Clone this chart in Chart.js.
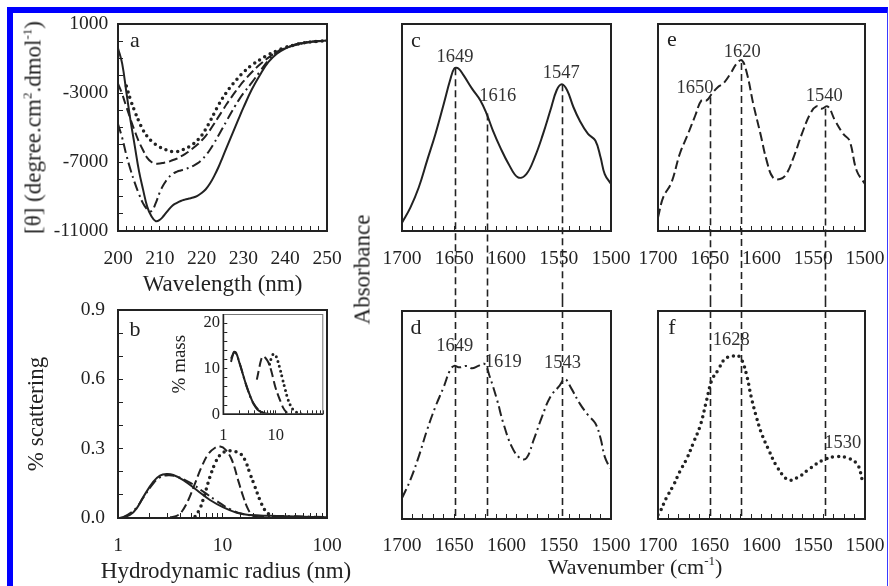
<!DOCTYPE html>
<html>
<head>
<meta charset="utf-8">
<script src="https://cdn.jsdelivr.net/npm/chart.js@4.4.1/dist/chart.umd.min.js"></script>
<style>
  html, body { margin: 0; padding: 0; background: #fff; }
  body { width: 889px; height: 586px; position: relative; overflow: hidden;
         font-family: 'Liberation Serif', 'Times New Roman', serif; color: #222; }
  .frame { position: absolute; left: 7px; top: 7px; width: 881px; height: 620px; box-sizing: border-box;
           border-top: 6px solid #0000ff; border-left: 6px solid #0000ff; border-right: 1px solid #3a3aff; }
  canvas { position: absolute; }
  .lbl { position: absolute; font-size: 23px; line-height: 23px; white-space: nowrap; text-align: center; }
  .lbl sup { font-size: 13px; line-height: 0; vertical-align: 9px; }
</style>
</head>
<body>
<div class="frame"></div>
<canvas id="chartA" width="336" height="286" style="left:14px;top:14px"></canvas>
<canvas id="chartB" width="336" height="286" style="left:14px;top:300px"></canvas>
<canvas id="chartInset" width="165" height="140" style="left:165px;top:305px"></canvas>
<canvas id="chartC" width="280" height="286" style="left:355px;top:14px"></canvas>
<canvas id="chartD" width="280" height="286" style="left:355px;top:300px"></canvas>
<canvas id="chartE" width="250" height="286" style="left:636px;top:14px"></canvas>
<canvas id="chartF" width="250" height="286" style="left:636px;top:300px"></canvas>
<div class="lbl" style="left:-86.8px;top:116px;width:240px;transform:rotate(-90deg)">[θ] (degree.cm<sup>2</sup>.dmol<sup>-1</sup>)</div>
<div class="lbl" style="left:96px;top:559px;width:260px">Hydrodynamic radius (nm)</div>
<div class="lbl" style="left:292px;top:257.5px;width:140px;transform:rotate(-90deg)">Absorbance</div>
<div class="lbl" style="left:535px;top:556px;width:200px;font-size:22px;line-height:22px">Wavenumber (cm<sup>-1</sup>)</div>
<script>
// ---- panel a : CD spectra ----
const aWl = [200, 201, 202, 203, 204, 205, 206, 207, 208, 209, 210, 211, 212, 213, 214, 215, 216, 217, 218, 219,
             220, 221, 222, 223, 224, 225, 226, 227, 228, 229, 230, 232, 234, 236, 238, 240, 242, 244, 246, 248, 250];
const aSolid = [-400, -1300, -2950, -4600, -6050, -7500, -8600, -9600, -10150, -10430, -10350, -10100, -9800, -9530, -9380, -9260, -9180, -9120, -9060, -8960,
                -8800, -8580, -8250, -7820, -7320, -6740, -6150, -5570, -4990, -4410, -3850, -2800, -1940, -1200, -720, -420, -230, -110, -40, 10, 40];
const aDotted = [null, null, -2600, -3400, -4050, -4650, -5150, -5520, -5790, -5980, -6130, -6250, -6340, -6400, -6400, -6340, -6240, -6120, -5960, -5740,
                 -5460, -5090, -4650, -4180, -3720, -3310, -2950, -2620, -2330, -2050, -1790, -1390, -1060, -770, -550, -360, -230, -120, -40, 0, 30];
const aDashed = [-2450, -3060, -3800, -4520, -5200, -5820, -6320, -6760, -7000, -7090, -7090, -7040, -6990, -6900, -6810, -6680, -6540, -6380, -6190, -5990,
                 -5750, -5480, -5150, -4780, -4400, -4020, -3640, -3290, -2950, -2630, -2330, -1800, -1340, -950, -630, -400, -250, -130, -40, 0, 30];
const aDashDot = [-4800, -5600, -6600, -7450, -8200, -8850, -9400, -9750, -9850, -9400, -8750, -8280, -7930, -7700, -7570, -7490, -7420, -7330, -7220, -7080,
                  -6880, -6610, -6290, -5900, -5480, -5050, -4610, -4180, -3760, -3370, -3020, -2400, -1740, -1100, -640, -360, -210, -100, -30, 10, 40];

// ---- panel b : DLS, % scattering ----
const bSolidR = [1.04, 1.30, 1.51, 1.75, 2.18, 2.52, 2.92, 3.38, 4.22, 5.66, 7.59, 10.2, 13.7, 18.3, 24.6, 33, 51, 100];
const bSolid = [0, 0.013, 0.042, 0.092, 0.157, 0.183, 0.190, 0.186, 0.164, 0.121, 0.078, 0.046, 0.023, 0.013, 0.010, 0.009, 0.006, 0.003];
const bDashDotR = [1.12, 1.30, 1.51, 1.75, 2.18, 2.52, 3.03, 3.64, 4.88, 6.55, 8.79, 11.8, 15.8, 21.2, 33, 100];
const bDashDot = [0.003, 0.020, 0.046, 0.089, 0.150, 0.176, 0.185, 0.179, 0.153, 0.114, 0.074, 0.038, 0.017, 0.010, 0.009, 0.004];
const bDashedR = [3.15, 3.64, 4.07, 4.71, 5.46, 6.32, 7.33, 8.5, 9.5, 10.6, 12.3, 14.1, 15.8, 17.7, 19.7, 22.0];
const bDashed = [0.003, 0.009, 0.027, 0.078, 0.150, 0.222, 0.277, 0.304, 0.309, 0.297, 0.251, 0.164, 0.092, 0.035, 0.009, 0.003];
const bDottedR = [5.46, 6.1, 6.8, 7.6, 8.5, 9.5, 10.6, 11.8, 13.2, 14.7, 16.4, 18.3, 20.4, 22.8, 25.4, 28.5, 31.8];
const bDotted = [0.006, 0.042, 0.107, 0.179, 0.237, 0.273, 0.287, 0.291, 0.287, 0.280, 0.251, 0.193, 0.136, 0.078, 0.035, 0.013, 0.003];

// ---- inset : % mass ----
const inSolidR = [1.4, 1.5, 1.6, 1.75, 2.0, 2.4, 2.8, 3.3, 3.8, 4.5, 5.5, 7, 9];
const inSolid = [11.5, 12.8, 13.7, 13.5, 11.5, 8.5, 6.0, 3.8, 2.2, 1.0, 0.4, 0.1, 0];
const inDashDotR = [1.4, 1.55, 1.65, 1.8, 2.1, 2.5, 3.0, 3.5, 4.2, 5, 6.5, 9];
const inDashDot = [12.2, 13.3, 13.6, 13, 10.8, 7.8, 5, 3, 1.6, 0.7, 0.2, 0];
const inDashedR = [4.35, 4.8, 5.2, 5.66, 6.3, 7.26, 8.2, 9.0, 10, 11.3, 12.6, 14, 15.8, 17.5];
const inDashed = [7.6, 10, 11.8, 12.7, 12.4, 11.3, 9.5, 7.6, 5.6, 3.9, 2.5, 1.3, 0.5, 0.1];
const inDottedR = [7.6, 8.3, 9.0, 9.8, 10.8, 12.1, 13.5, 15.1, 17, 18.9, 21, 23.5, 27, 31.6];
const inDotted = [11, 12.5, 13.2, 13, 11.8, 9.8, 7.6, 5.4, 3.3, 2, 1.1, 0.6, 0.3, 0];

// ---- panels c-f : FTIR absorbance ----
const cWn = [1700, 1692, 1684, 1676, 1668, 1660, 1654, 1650, 1646, 1641, 1633, 1625, 1619, 1613, 1606, 1598, 1589, 1581, 1573, 1565, 1558, 1552, 1547, 1542, 1536, 1530, 1522, 1515, 1510, 1506, 1500];
const cAbs = [0.040, 0.113, 0.210, 0.340, 0.469, 0.615, 0.728, 0.785, 0.785, 0.752, 0.688, 0.631, 0.566, 0.485, 0.404, 0.324, 0.259, 0.275, 0.356, 0.469, 0.583, 0.680, 0.709, 0.680, 0.599, 0.534, 0.469, 0.437, 0.356, 0.275, 0.227];
const dWn = [1700, 1692, 1684, 1676, 1668, 1660, 1654, 1650, 1645, 1638, 1633, 1627, 1621, 1616, 1609, 1603, 1595, 1587, 1581, 1574, 1566, 1558, 1550, 1544, 1538, 1530, 1522, 1515, 1510, 1506, 1501];
const dAbs = [0.100, 0.188, 0.300, 0.428, 0.540, 0.636, 0.716, 0.736, 0.729, 0.736, 0.725, 0.736, 0.745, 0.684, 0.572, 0.460, 0.348, 0.292, 0.292, 0.380, 0.492, 0.588, 0.636, 0.672, 0.628, 0.556, 0.500, 0.460, 0.388, 0.300, 0.244];
const eWn = [1700, 1695, 1687, 1679, 1671, 1664, 1658, 1653, 1648, 1642, 1637, 1630, 1624, 1619, 1614, 1608, 1601, 1595, 1589, 1582, 1576, 1569, 1561, 1553, 1547, 1542, 1536, 1529, 1521, 1515, 1508, 1500];
const eAbs = [0.065, 0.162, 0.234, 0.372, 0.469, 0.558, 0.631, 0.631, 0.663, 0.696, 0.712, 0.760, 0.809, 0.825, 0.760, 0.615, 0.469, 0.340, 0.259, 0.251, 0.275, 0.356, 0.469, 0.566, 0.602, 0.591, 0.602, 0.534, 0.469, 0.437, 0.291, 0.227];
const fWn = [1700, 1698, 1692, 1685, 1679, 1672, 1666, 1659, 1653, 1648, 1642, 1635, 1629, 1624, 1619, 1614, 1610, 1605, 1600, 1593, 1585, 1574, 1564, 1553, 1540, 1527, 1516, 1507, 1502, 1500];
const fAbs = [0.02, 0.035, 0.100, 0.163, 0.227, 0.292, 0.364, 0.452, 0.572, 0.668, 0.716, 0.772, 0.780, 0.788, 0.764, 0.684, 0.588, 0.492, 0.412, 0.332, 0.251, 0.188, 0.203, 0.244, 0.284, 0.300, 0.292, 0.260, 0.179, 0.175];

// dashed guide lines running from the upper panel peak down through the lower panel
const cdGuideWn = [1649, 1619, 1547];
const cGuideTop = [0.786, 0.568, 0.709];
const efGuideWn = [1650, 1620, 1539];
const eGuideTop = [0.646, 0.811, 0.592];

// peak annotations (text, wavenumber, absorbance)
const cPeakText = ['1649', '1616', '1547'], cPeakWn = [1649.3, 1608.4, 1547.5], cPeakAbs = [0.840, 0.650, 0.762];
const dPeakText = ['1649', '1619', '1543'], dPeakWn = [1649.5, 1603, 1546.4], dPeakAbs = [0.830, 0.756, 0.749];
const ePeakText = ['1650', '1620', '1540'], ePeakWn = [1664.3, 1618.6, 1539.4], ePeakAbs = [0.688, 0.866, 0.651];
const fPeakText = ['1628', '1530'], fPeakWn = [1629.2, 1521.4], fPeakAbs = [0.861, 0.364];

// ---------------------------------------------------------------------------
const FONT = "'Liberation Serif', 'Times New Roman', serif";
const INK = '#222';
Chart.defaults.font.family = FONT;
Chart.defaults.color = INK;

const STYLES = {
  solid:   { borderDash: [], borderWidth: 2 },
  dashed:  { borderDash: [9, 4], borderWidth: 2 },
  dashdot: { borderDash: [10, 4, 2, 4], borderWidth: 2 },
  dotted:  { borderDash: [0, 6], borderWidth: 3.5, borderCapStyle: 'round' },
  dotSmall:{ borderDash: [0, 5], borderWidth: 3, borderCapStyle: 'round' }
};

const series = (xs, ys, style) => ({
  data: xs.map((x, i) => ({ x, y: ys[i] })),
  borderColor: INK, pointRadius: 0, fill: false, tension: 0.4, ...STYLES[style]
});

// frame, panel letter, peak labels and guide lines
const panelMarks = {
  id: 'panelMarks',
  afterDraw(chart, args, o) {
    const { ctx, chartArea: ca, scales: { x, y } } = chart;
    ctx.save();
    if (o.inset) {
      ctx.lineWidth = 1; ctx.strokeStyle = '#777';
      ctx.strokeRect(ca.left + 0.5, ca.top + 0.5, ca.right - ca.left - 1, ca.bottom - ca.top - 1);
      ctx.lineWidth = 1.5; ctx.strokeStyle = INK;
      ctx.beginPath(); ctx.moveTo(ca.left, ca.top); ctx.lineTo(ca.left, ca.bottom); ctx.lineTo(ca.right, ca.bottom); ctx.stroke();
    } else {
      ctx.lineWidth = 2; ctx.strokeStyle = INK;
      ctx.strokeRect(ca.left, ca.top, ca.right - ca.left, ca.bottom - ca.top);
    }
    ctx.fillStyle = INK; ctx.textAlign = 'center'; ctx.textBaseline = 'middle';
    if (o.letter) {
      ctx.font = `22px ${FONT}`;
      ctx.fillText(o.letter, ca.left + o.letterAt[0], ca.top + o.letterAt[1]);
    }
    if (o.peaks) {
      ctx.font = `18.5px ${FONT}`; ctx.fillStyle = '#333';
      o.peaks.text.forEach((t, i) => ctx.fillText(t, x.getPixelForValue(o.peaks.x[i]), y.getPixelForValue(o.peaks.y[i])));
    }
    if (o.guides) {
      ctx.strokeStyle = INK; ctx.lineWidth = 1.6; ctx.setLineDash([7, 4]);
      o.guides.x.forEach((v, i) => {
        const px = Math.round(x.getPixelForValue(v)) + 0.5;
        const y0 = o.guides.top ? y.getPixelForValue(o.guides.top[i]) : 0;
        const y1 = o.guides.top ? chart.height : ca.bottom;
        ctx.beginPath(); ctx.moveTo(px, y0); ctx.lineTo(px, y1); ctx.stroke();
      });
    }
    ctx.restore();
  }
};

function xAxis(c) {
  return {
    type: c.type || 'linear', min: c.min, max: c.max, reverse: !!c.reverse,
    afterFit: s => { s.height = c.height; s.paddingLeft = 0; s.paddingRight = 0; },
    border: { display: false },
    grid: { drawOnChartArea: false, drawTicks: true, tickLength: c.tick || -5, tickColor: INK, tickWidth: 1 },
    ticks: { autoSkip: false, maxRotation: 0, minRotation: 0, padding: c.pad, stepSize: c.step, color: INK,
             font: { size: c.size || 19.5, lineHeight: 1 }, callback: c.label },
    title: c.title ? { display: true, text: c.title, color: INK, font: { size: 23, lineHeight: 1 },
                       padding: { top: 0, bottom: c.titlePad } } : { display: false }
  };
}

function yAxis(c) {
  return {
    type: 'linear', min: c.min, max: c.max,
    afterFit: s => { s.width = c.width; s.paddingTop = 0; s.paddingBottom = 0; },
    border: { display: false },
    grid: { drawOnChartArea: false, drawTicks: true, tickLength: c.tick || -5, tickColor: INK, tickWidth: 1 },
    ticks: { autoSkip: false, padding: c.pad, stepSize: c.step, color: INK,
             font: { size: c.size || 19.5, lineHeight: 1 }, callback: c.label },
    title: c.title ? { display: true, text: c.title, color: INK, font: { size: c.titleSize || 23, lineHeight: 1 },
                       padding: { top: c.titlePad, bottom: 0 } } : { display: false }
  };
}

function makeChart(id, datasets, scales, padding, marks) {
  return new Chart(document.getElementById(id), {
    type: 'line',
    data: { datasets },
    options: {
      responsive: false, animation: false, events: [],
      layout: { padding },
      plugins: { legend: { display: false }, tooltip: { enabled: false }, panelMarks: marks },
      scales
    },
    plugins: [panelMarks]
  });
}

// ---- a ----
makeChart('chartA', [
  series(aWl, aSolid, 'solid'),
  series(aWl, aDashDot, 'dashdot'),
  series(aWl, aDashed, 'dashed'),
  series(aWl, aDotted, 'dotted')
], {
  x: xAxis({ min: 200, max: 250, step: 2, height: 69, pad: 23.25, title: 'Wavelength (nm)', titlePad: 3.1,
             label: v => v % 10 === 0 ? String(v) : '' }),
  y: yAxis({ min: -11000, max: 1000, step: 1000, width: 104, pad: 14.7,
             label: v => (v - 1000) % 4000 === 0 ? String(v) : '' })
}, { left: 0, top: 10, right: 23, bottom: 0 }, { letter: 'a', letterAt: [17, 17] });

// ---- b ----
const logLabel = list => v => list.includes(v) ? String(v) : '';
makeChart('chartB', [
  series(bSolidR, bSolid, 'solid'),
  series(bDashDotR, bDashDot, 'dashdot'),
  series(bDashedR, bDashed, 'dashed'),
  series(bDottedR, bDotted, 'dotted')
], {
  x: xAxis({ type: 'logarithmic', min: 1, max: 100, height: 68, pad: 23.25, label: logLabel([1, 10, 100]) }),
  y: yAxis({ min: 0, max: 0.9, step: 0.1, width: 104, pad: 18, title: '% scattering', titlePad: 11.7,
             label: v => Math.round(v * 10) % 3 === 0 ? v.toFixed(1) : '' })
}, { left: 0, top: 10, right: 23, bottom: 0 }, { letter: 'b', letterAt: [17, 20] });

// ---- inset ----
makeChart('chartInset', [
  series(inSolidR, inSolid, 'solid'),
  series(inDashDotR, inDashDot, 'dashdot'),
  series(inDashedR, inDashed, 'dashed'),
  series(inDottedR, inDotted, 'dotSmall')
], {
  x: xAxis({ type: 'logarithmic', min: 1, max: 80, height: 30.7, pad: 17.45, tick: -4, size: 16.5, label: logLabel([1, 10]) }),
  y: yAxis({ min: 0, max: 22, step: 2, width: 58.3, pad: 7.3, tick: -4, size: 16.5, title: '% mass', titleSize: 19, titlePad: 5.3,
             label: v => v % 10 === 0 ? String(v) : '' })
}, { left: 0, top: 9, right: 6.7, bottom: 0 }, { inset: true });

// ---- c-f ----
const irX = (height, pad) => xAxis({ min: 1500, max: 1700, reverse: true, step: 10, height, pad,
                                     label: v => v % 50 === 0 ? String(v) : '' });
const irY = { type: 'linear', min: 0, max: 1, display: false };

makeChart('chartC', [series(cWn, cAbs, 'solid')], { x: irX(69, 23.25), y: irY },
  { left: 47, top: 10, right: 24, bottom: 0 },
  { letter: 'c', letterAt: [14, 17], peaks: { text: cPeakText, x: cPeakWn, y: cPeakAbs },
    guides: { x: cdGuideWn, top: cGuideTop } });

makeChart('chartD', [series(dWn, dAbs, 'dashdot')], { x: irX(67, 22.25), y: irY },
  { left: 47, top: 11, right: 24, bottom: 0 },
  { letter: 'd', letterAt: [14, 17], peaks: { text: dPeakText, x: dPeakWn, y: dPeakAbs },
    guides: { x: cdGuideWn } });

makeChart('chartE', [series(eWn, eAbs, 'dashed')], { x: irX(69, 23.25), y: irY },
  { left: 22, top: 10, right: 21, bottom: 0 },
  { letter: 'e', letterAt: [14, 16], peaks: { text: ePeakText, x: ePeakWn, y: ePeakAbs },
    guides: { x: efGuideWn, top: eGuideTop } });

makeChart('chartF', [series(fWn, fAbs, 'dotted')], { x: irX(67, 22.25), y: irY },
  { left: 22, top: 11, right: 21, bottom: 0 },
  { letter: 'f', letterAt: [14, 17], peaks: { text: fPeakText, x: fPeakWn, y: fPeakAbs },
    guides: { x: efGuideWn } });
</script>
</body>
</html>
